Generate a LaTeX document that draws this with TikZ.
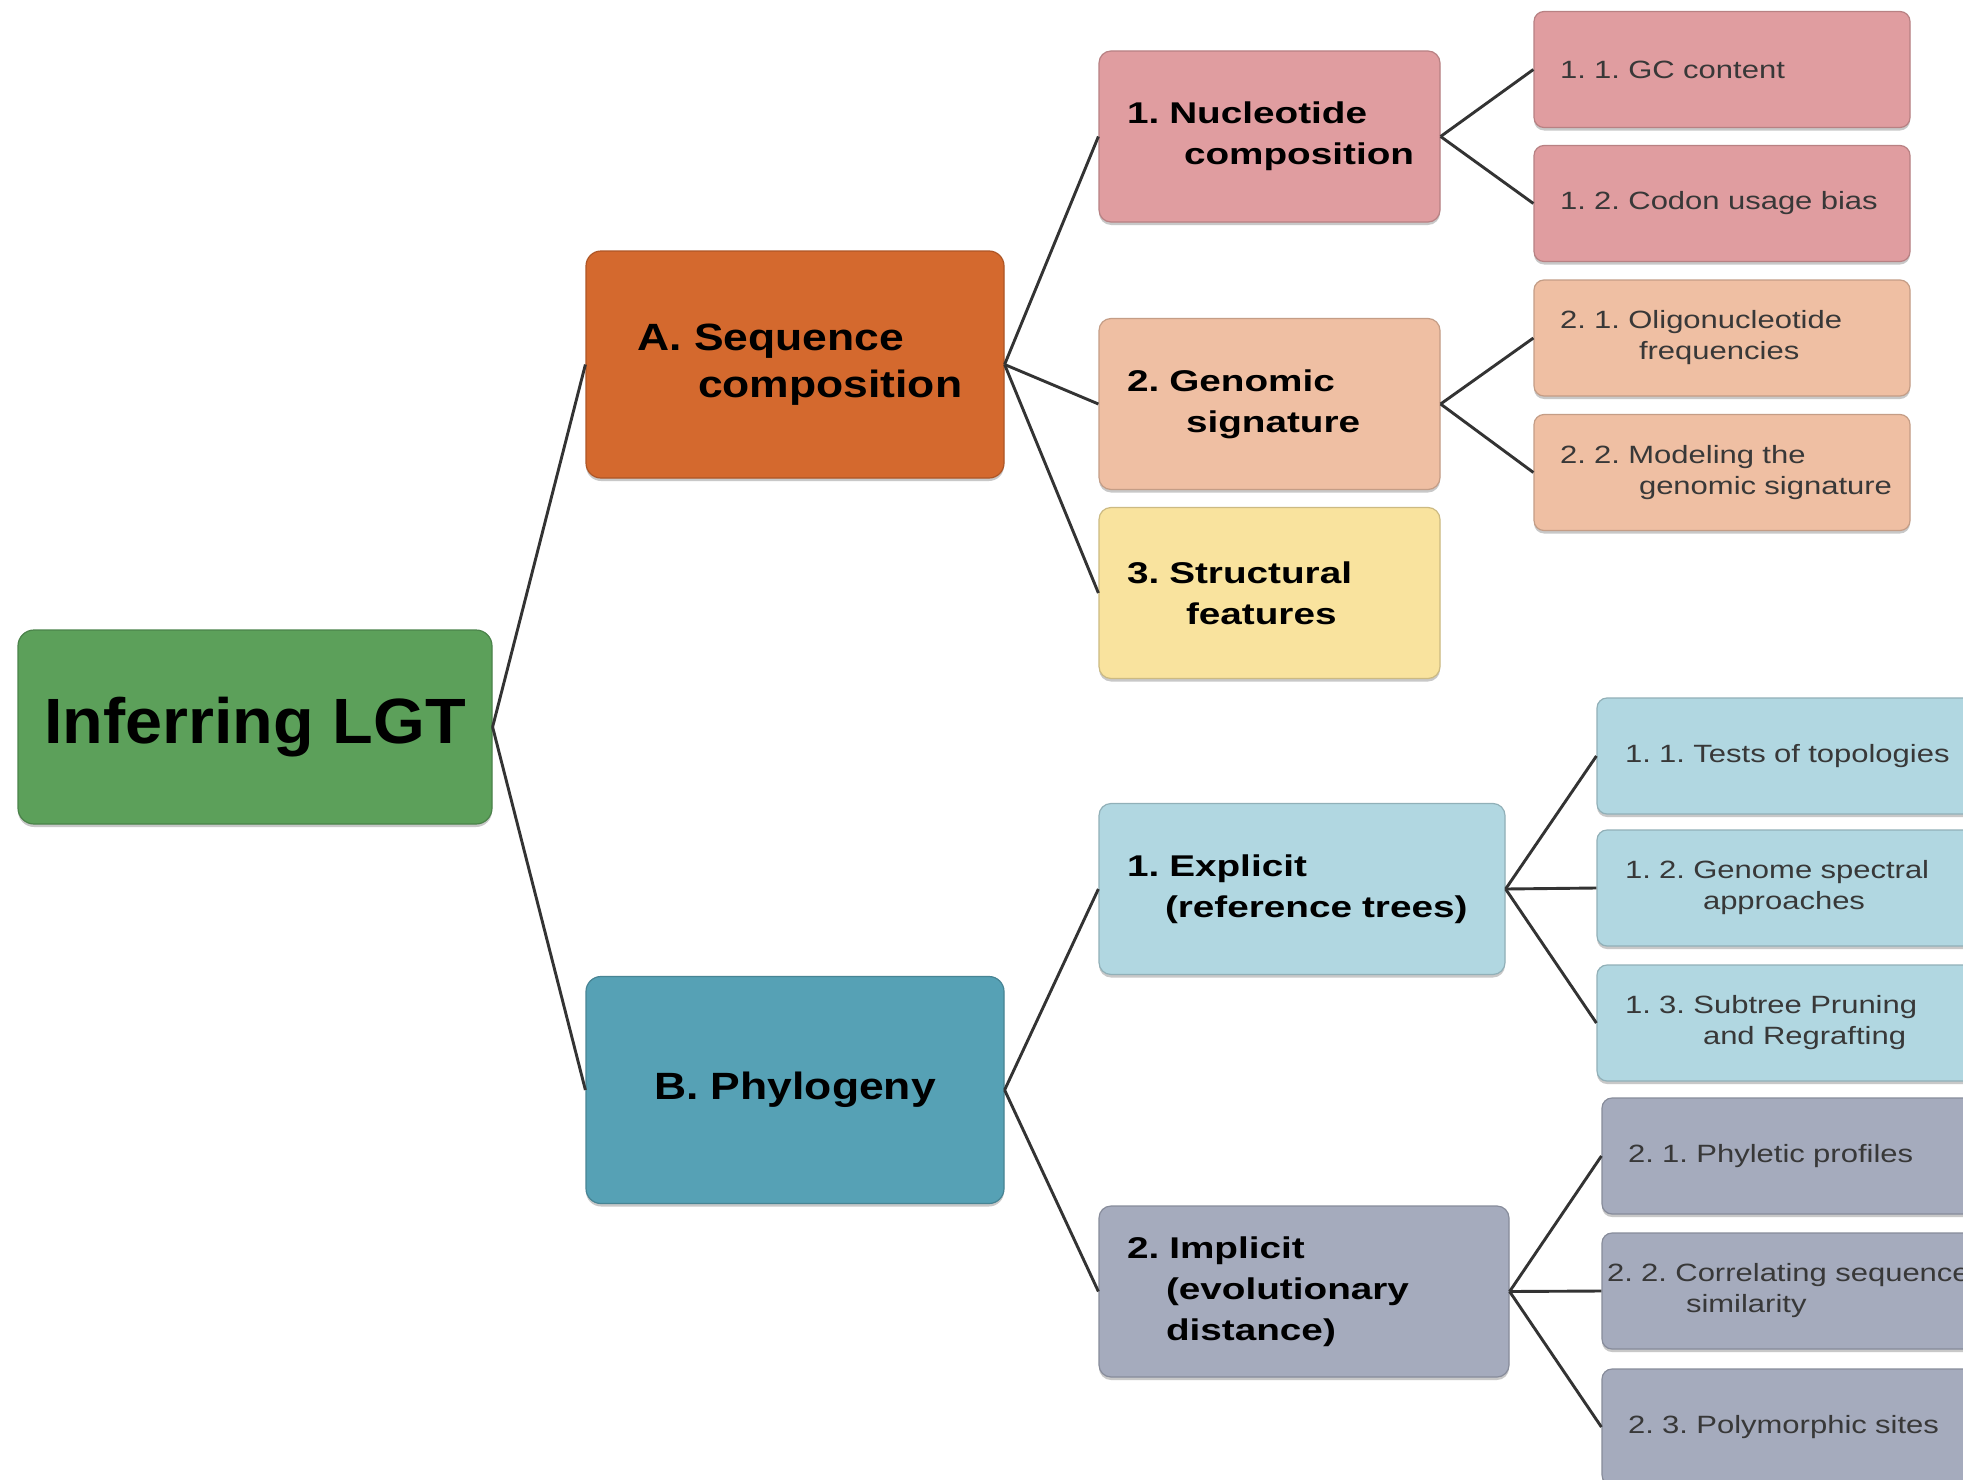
\documentclass[tikz,border=0pt]{standalone}
\usepackage{fontspec}
\setmainfont{Liberation Sans}
\newfontfamily\rootfont[FakeStretch=1.04]{Liberation Sans}
\newfontfamily\secfont[FakeStretch=1.17]{Liberation Sans}
\newfontfamily\subfont[FakeStretch=1.29]{Liberation Sans}
\newfontfamily\leaffont[FakeStretch=1.24]{Liberation Sans}
\usetikzlibrary{shadows}
\frenchspacing
\hyphenpenalty=10000
\exhyphenpenalty=10000
\hfuzz=40pt

\definecolor{cRoot}{HTML}{5CA05A}
\definecolor{cSeq}{HTML}{D4692E}
\definecolor{cPhy}{HTML}{56A1B5}
\definecolor{cNuc}{HTML}{E09DA0}
\definecolor{cGen}{HTML}{EFBFA3}
\definecolor{cStr}{HTML}{F9E39E}
\definecolor{cExp}{HTML}{B1D7E1}
\definecolor{cImp}{HTML}{A5ABBD}
\definecolor{cLine}{HTML}{333333}
\definecolor{cLeafText}{HTML}{383838}

\tikzset{
  card/.style={rectangle, draw=#1!82!black, fill=#1, line width=1.2pt,
    inner sep=0pt,
    drop shadow={shadow xshift=0pt, shadow yshift=-3pt, opacity=0.3, fill=black!70}},
  rootbox/.style={card=#1, rounded corners=16pt, minimum width=474pt,
    minimum height=194pt, align=center, text=black,
    font=\rootfont\bfseries\fontsize{64}{70}\selectfont},
  secbox/.style={card=#1, rounded corners=15pt, minimum width=418pt,
    minimum height=227pt, text=black,
    font=\secfont\bfseries\fontsize{38}{47}\selectfont},
  subbox/.style={card=#1, rounded corners=12pt, minimum height=171pt,
    align=left, text=black,
    font=\subfont\bfseries\fontsize{30}{41}\selectfont},
  leafbox/.style={card=#1, rounded corners=10pt, minimum height=116pt,
    align=left, text=cLeafText,
    font=\leaffont\fontsize{25}{31}\selectfont},
  conn/.style={draw=cLine, line width=2.9pt, line join=round},
}

\begin{document}
\begin{tikzpicture}[x=1pt, y=-1pt]
  \useasboundingbox (0,0) rectangle (1963,1480);
  \clip (0,0) rectangle (1963,1480);
  \fill[white] (0,0) rectangle (1963,1480);

  % root
  \node[rootbox=cRoot] (root) at (255,727) {Inferring~LGT};

  % first level
  \node[secbox=cSeq, align=left, text width=316pt] (seq) at (795,364.5)
    {A.~Sequence\\\hspace*{61pt}composition};
  \node[secbox=cPhy, align=center] (phy) at (795,1090) {B.~Phylogeny};

  % second level: sequence composition
  \node[subbox=cNuc, minimum width=341pt, text width=285pt] (nuc) at (1269.5,136.5)
    {1.~Nucleotide\\\hspace*{57pt}composition};
  \node[subbox=cGen, minimum width=341pt, text width=285pt] (gen) at (1269.5,404)
    {2.~Genomic\\\hspace*{59pt}signature};
  \node[subbox=cStr, minimum width=341pt, text width=285pt] (str) at (1269.5,593)
    {3.~Structural\\\hspace*{59pt}features};

  % second level: phylogeny
  \node[subbox=cExp, minimum width=406pt, text width=350pt] (exp) at (1302,889)
    {1.~Explicit\\\hspace*{38pt}(reference~trees)};
  \node[subbox=cImp, minimum width=410pt, text width=354pt] (imp) at (1304,1291.5)
    {2.~Implicit\\\hspace*{39pt}(evolutionary\\\hspace*{39pt}distance)};

  % third level: sequence composition
  \node[leafbox=cNuc, minimum width=376pt, text width=324pt] (gc) at (1722,69.5)
    {1.~1.~GC~content};
  \node[leafbox=cNuc, minimum width=376pt, text width=324pt] (codon) at (1722,203.5)
    {1.~2.~Codon~usage~bias};
  \node[leafbox=cGen, minimum width=376pt, text width=324pt] (oligo) at (1722,338)
    {2.~1.~Oligonucleotide\\\hspace*{79pt}frequencies};
  \node[leafbox=cGen, minimum width=376pt, text width=324pt] (model) at (1722,472.5)
    {2.~2.~Modeling~the\\\hspace*{79pt}genomic~signature};

  % third level: phylogeny
  \node[leafbox=cExp, minimum width=400pt, text width=344pt] (topo) at (1797,756)
    {1.~1.~Tests~of~topologies};
  \node[leafbox=cExp, minimum width=400pt, text width=344pt] (spec) at (1797,888)
    {1.~2.~Genome~spectral\\\hspace*{78pt}approaches};
  \node[leafbox=cExp, minimum width=400pt, text width=344pt] (spr) at (1797,1023)
    {1.~3.~Subtree~Pruning\\\hspace*{78pt}and~Regrafting};
  \node[leafbox=cImp, minimum width=400pt, text width=348pt] (phyl) at (1802,1156)
    {2.~1.~Phyletic~profiles};
  \node[leafbox=cImp, minimum width=400pt, text width=390pt] (corr) at (1802,1291)
    {2.~2.~Correlating~sequence\\\hspace*{79pt}similarity};
  \node[leafbox=cImp, minimum width=400pt, text width=348pt] (poly) at (1802,1427)
    {2.~3.~Polymorphic~sites};

  % connectors
  \draw[conn] (root.east) -- (seq.west);
  \draw[conn] (root.east) -- (phy.west);
  \draw[conn] (seq.east) -- (nuc.west);
  \draw[conn] (seq.east) -- (gen.west);
  \draw[conn] (seq.east) -- (str.west);
  \draw[conn] (phy.east) -- (exp.west);
  \draw[conn] (phy.east) -- (imp.west);
  \draw[conn] (nuc.east) -- (gc.west);
  \draw[conn] (nuc.east) -- (codon.west);
  \draw[conn] (gen.east) -- (oligo.west);
  \draw[conn] (gen.east) -- (model.west);
  \draw[conn] (exp.east) -- (topo.west);
  \draw[conn] (exp.east) -- (spec.west);
  \draw[conn] (exp.east) -- (spr.west);
  \draw[conn] (imp.east) -- (phyl.west);
  \draw[conn] (imp.east) -- (corr.west);
  \draw[conn] (imp.east) -- (poly.west);
\end{tikzpicture}
\end{document}
